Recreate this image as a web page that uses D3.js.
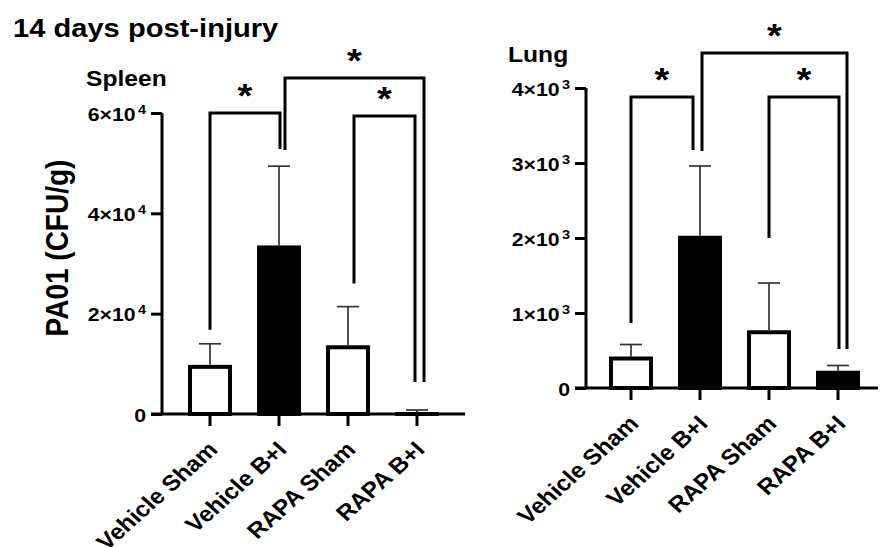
<!DOCTYPE html>
<html><head><meta charset="utf-8">
<script src="https://cdn.jsdelivr.net/npm/d3@7"></script>
<style>
html,body{margin:0;padding:0;background:#fff;}
text{font-family:Arial,"Liberation Sans",sans-serif;font-weight:bold;fill:#000;}
</style></head>
<body><svg id="chart" width="880" height="547"></svg>
<script>
// ---------- data ----------
const categories = ["Vehicle Sham", "Vehicle B+I", "RAPA Sham", "RAPA B+I"];
const spleenMean = [9800, 33600, 13700, 400];
const spleenUpper = [14000, 49400, 21400, 800];
const lungMean = [420, 2030, 770, 230];
const lungUpper = [580, 2960, 1400, 300];
const spleenTicks = [0, 20000, 40000, 60000];
const lungTicks = [0, 1000, 2000, 3000, 4000];
// significance brackets: [fromIndex, toIndex, topValue, leftLegEnd, rightLegEnd]
const spleenBrackets = [[0, 1, 60000, 16800, 52800], [1, 3, 67000, 52600, 6400], [2, 3, 59400, 26000, 6400]];
const lungBrackets = [[0, 1, 3880, 867, 3173], [1, 3, 4467, 3160, 520], [2, 3, 3880, 2000, 520]];
const title = "14 days post-injury";
const yTitle = "PA01 (CFU/g)";

// ---------- layout ----------
const SX = 1.12; // horizontal text stretch
const svg = d3.select("#chart");

svg.append("text").attr("transform", `translate(13,37) scale(${SX},1)`).attr("font-size", 26).text(title);
svg.append("text").attr("transform", `translate(68,248) scale(${SX},1) rotate(-90)`)
  .attr("text-anchor", "middle").attr("font-size", 28).text(yTitle);

function panel(cfg) {
  const x = d3.scaleBand().domain(categories).range(cfg.xRange).paddingInner(0.362).paddingOuter(0.181);
  const y = d3.scaleLinear().domain([0, cfg.max]).range(cfg.yRange);
  const g = svg.append("g");
  const cx = (i) => x(categories[i]) + x.bandwidth() / 2;

  // panel label
  g.append("text").attr("transform", `translate(${cfg.labelPos[0]},${cfg.labelPos[1]}) scale(${SX},1)`)
    .attr("font-size", 22).text(cfg.label);

  // bars
  const barW = 40;
  g.selectAll("rect.bar").data(cfg.mean).join("rect")
    .attr("x", (d, i) => cx(i) - barW / 2)
    .attr("y", d => y(d) + 2)
    .attr("width", barW)
    .attr("height", d => Math.max(0, y(0) - y(d) - 2))
    .attr("fill", (d, i) => categories[i].includes("B+I") ? "#000" : "#fff")
    .attr("stroke", "#000").attr("stroke-width", 4);

  // error bars (upper)
  const eb = g.selectAll("g.err").data(cfg.upper).join("g");
  eb.append("line").attr("x1", (d, i) => cx(i)).attr("x2", (d, i) => cx(i))
    .attr("y1", (d, i) => y(cfg.mean[i])).attr("y2", d => y(d))
    .attr("stroke", "#333").attr("stroke-width", 1.7);
  eb.append("line").attr("x1", (d, i) => cx(i) - 11).attr("x2", (d, i) => cx(i) + 11)
    .attr("y1", d => y(d)).attr("y2", d => y(d))
    .attr("stroke", "#333").attr("stroke-width", 1.7);

  // y axis
  const ya = d3.axisLeft(y).tickValues(cfg.ticks).tickSize(11).tickSizeOuter(0);
  const yg = g.append("g").attr("transform", `translate(${cfg.axisX},0)`).call(ya);
  yg.select(".domain").attr("stroke-width", 3).attr("d", `M0,${y(0)}V${y(cfg.max)}`);
  yg.selectAll(".tick line").attr("stroke-width", 3);
  yg.selectAll(".tick text").each(function (d) {
    const t = d3.select(this);
    t.text(null).attr("x", 0).attr("dy", null).attr("font-size", 19).attr("font-family", null)
      .attr("transform", `translate(-16,7) scale(${SX},1)`);
    if (d === 0) { t.text("0"); return; }
    const exp = Math.floor(Math.log10(d));
    const mant = Math.round(d / Math.pow(10, exp));
    t.append("tspan").text(mant + "×10");
    t.append("tspan").attr("font-size", 13).attr("dx", 2).attr("dy", -7).text(exp);
  });

  // x axis
  const xa = d3.axisBottom(x).tickSize(12).tickSizeOuter(0);
  const xg = g.append("g").attr("transform", `translate(0,${y(0)})`).call(xa);
  xg.select(".domain").attr("stroke-width", 3).attr("d", `M${cfg.axisX - 11},0H${cfg.xEnd}`);
  xg.selectAll(".tick line").attr("stroke-width", 3);
  xg.selectAll(".tick text").attr("y", null).attr("dy", null).attr("font-size", 22).attr("font-family", null)
    .attr("text-anchor", "end")
    .attr("transform", `translate(9,37) scale(${SX},1) rotate(-45)`);

  // brackets
  cfg.brackets.forEach((b, k) => {
    const [i, j, top, endA, endB] = b;
    const xa1 = cx(i) + cfg.legOffsets[k][0], xb1 = cx(j) + cfg.legOffsets[k][1];
    g.append("path")
      .attr("d", `M${xa1},${y(endA)}V${y(top)}H${xb1}V${y(endB)}`)
      .attr("fill", "none").attr("stroke", "#000").attr("stroke-width", 3);
    g.append("text").attr("text-anchor", "middle").attr("font-size", 34)
      .attr("transform", `translate(${(xa1 + xb1) / 2},${y(top) - 6}) scale(${SX},1)`)
      .text("*");
  });
}

panel({
  label: "Spleen", labelPos: [86, 86], mean: spleenMean, upper: spleenUpper, ticks: spleenTicks,
  max: 60000, axisX: 162, xRange: [175.5, 451.5], yRange: [414, 113], xEnd: 465,
  brackets: spleenBrackets, legOffsets: [[0, 1], [6, 7], [6, -2]]
});
panel({
  label: "Lung", labelPos: [508, 62], mean: lungMean, upper: lungUpper, ticks: lungTicks,
  max: 4000, axisX: 586, xRange: [596.5, 872.5], yRange: [388, 88], xEnd: 878,
  brackets: lungBrackets, legOffsets: [[0, -7], [2, 9], [0, 1]]
});
</script></body></html>
